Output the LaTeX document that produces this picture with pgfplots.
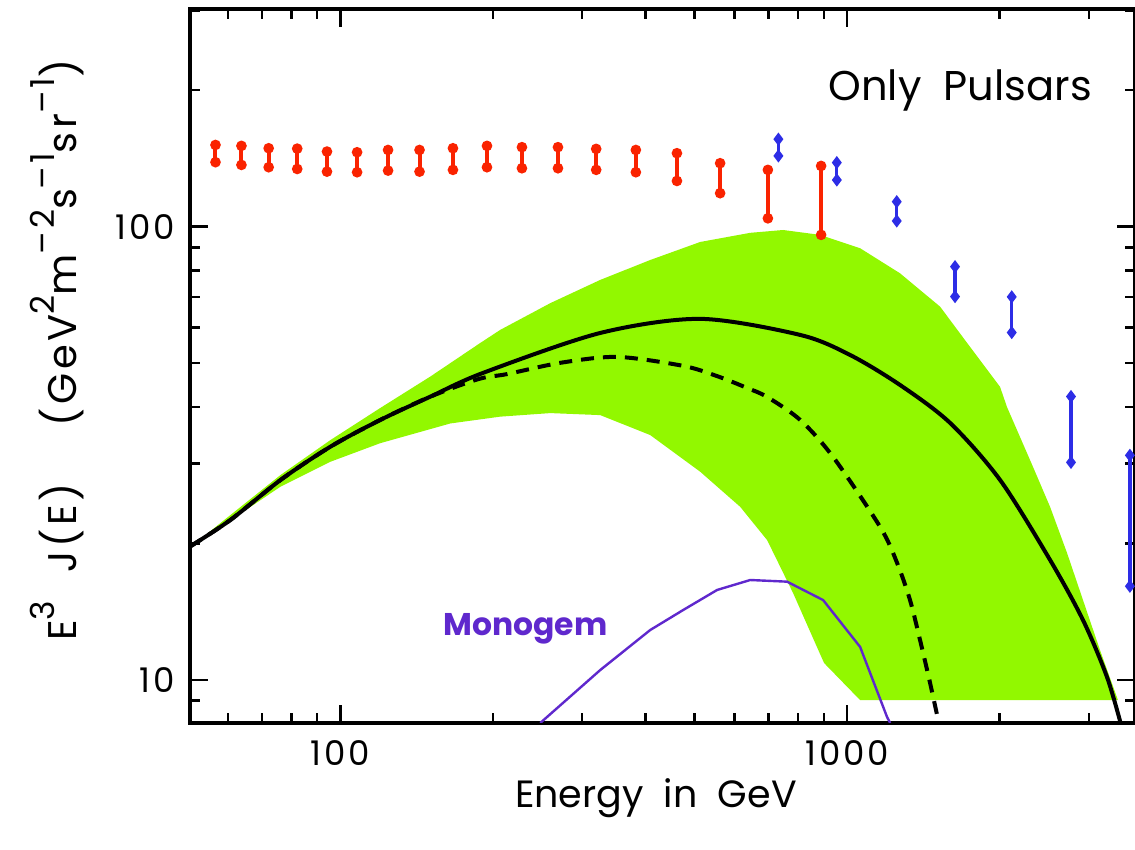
\documentclass[border=0pt]{standalone}
\usepackage{pgfplots}
\pgfplotsset{compat=1.18}
\usepackage{fontspec}
\setmainfont{Poppins}
\newfontfamily\spacedfont{Poppins}[LetterSpace=9]

\definecolor{bandgreen}{RGB}{146,248,0}
\definecolor{datared}{RGB}{250,35,0}
\definecolor{datablue}{RGB}{45,45,230}
\definecolor{monogem}{RGB}{95,40,205}

% large raised exponents for the unit label
\newcommand{\ex}[1]{\raisebox{0.55em}{\fontsize{16.5}{19}\selectfont #1}}
% widely tracked digits for the tick labels
\newcommand{\tk}{\kern1.5pt}

\begin{document}
\begin{tikzpicture}
\begin{axis}[
  scale only axis,
  width=472.5pt, height=357pt,
  xmode=log, ymode=log,
  xmin=50.5, xmax=3700,
  ymin=8.04, ymax=302,
  xtick={100,1000}, ytick={10,100},
  xticklabels={\mbox{1\tk 0\tk 0},\mbox{1\tk 0\tk 0\tk 0}},
  yticklabels={\mbox{1\tk 0},\mbox{1\tk 0\tk 0}},
  minor xtick={60,70,80,90,200,300,400,500,600,700,800,900,2000,3000},
  minor ytick={9,20,30,40,50,60,70,80,90,200,300},
  tick align=inside,
  major tick length=9pt, minor tick length=5pt,
  every tick/.style={black, line width=1.3pt},
  axis line style={line width=1.8pt},
  tick label style={font=\fontsize{17}{20}\selectfont},
  xticklabel style={yshift=-5pt},
  yticklabel style={xshift=-4pt},
  label style={font=\fontsize{19}{22}\selectfont},
  xlabel={Energy\ \ in\ \ GeV},
  ylabel={\spacedfont\fontsize{20}{23}\selectfont E\ex{3}\ \ J(E)\ \ \ \ (GeV\ex{2}m\ex{–2}s\ex{–1}sr\ex{–1})},
  xlabel style={at={(rel axis cs:0.493,-0.119)}, anchor=base},
  ylabel style={at={(rel axis cs:-0.1407,0.522)}, anchor=center},
  clip mode=individual,
]

% model uncertainty band
\addplot[fill=bandgreen, draw=none] coordinates {
  (51.8,20.06) (60.7,23.12) (76.2,28.33) (95.6,33.83) (119.9,39.82)
  (150.5,46.7) (188.9,55.4) (206.8,59.2) (259.6,67.8) (325.7,76.3)
  (408.7,84.4) (513,92.5) (644,96.9) (747.7,98.3) (884.3,95.9)
  (1061,89.6) (1272,78.9) (1526,66.6) (1725,55.4) (2004,44.3)
  (2068,40.0) (2328,29.5) (2515,24.1) (2717,19.06) (2921,15.01)
  (3155,11.65) (3424,9.03)
  (1061,9.03) (900.8,10.9) (872.7,11.8) (782.6,15.55) (695.5,20.35)
  (615.2,24.1) (513,28.8) (408.7,34.7) (325.7,38.4) (259.6,38.8)
  (206.8,38.1) (164.8,36.8) (119.9,33.3) (95.6,30.3) (76.2,26.7)
  (60.7,22.5)
} -- cycle;

% Monogem contribution
\addplot[monogem, line width=1.2pt] coordinates {
  (248,8.04) (325.7,10.52) (408.7,12.89) (474.8,14.27) (554,15.8)
  (644,16.62) (761.3,16.48) (896.8,15.01) (1061,11.83) (1199,8.29) (1216,8.04)
};

% total pulsar spectrum (dashed)
\addplot[black, line width=2pt, dash pattern=on 6.5pt off 4.5pt, smooth] coordinates {
  (50.5,19.7) (60.7,22.55) (76.2,27.62) (95.6,32.71) (119.9,37.47)
  (150.5,42.17) (187.2,46.1) (213.5,47.3) (271.6,50.07) (351.9,51.6)
  (474.8,49.3) (554,46.8) (635,44.07) (695.5,42.1)
  (808,37.47) (938.5,31.04) (1162,21.76) (1255,18.13)
  (1331,15.01) (1393,12.25) (1458,9.85) (1526,7.8)
};

% total pulsar spectrum (solid)
\addplot[black, line width=2pt, smooth] coordinates {
  (50.5,19.7) (60.7,22.55) (76.2,27.62) (95.6,32.71) (119.9,37.47)
  (150.5,42.17) (191.5,47.6) (325.7,58.27)
  (513,62.6) (808,57.7) (1014,52.1) (1272,44.74)
  (1597,36.9) (2004,27.62) (2515,18.4) (2921,13.56) (3258,10.15) (3480,7.9)
};

% measured points, red series (one bar per energy bin)
\addplot[datared, line width=2pt, mark=*, mark size=1.6pt,
  mark options={solid, fill=datared}, unbounded coords=jump] table {
x y
56.7 138.7
56.7 151.4
nan nan
63.8 136.8
63.8 150.7
nan nan
72.2 135.2
72.2 148.9
nan nan
82.2 134.0
82.2 148.6
nan nan
94.1 132.2
94.1 146.4
nan nan
107.9 131.8
107.9 145.9
nan nan
124.2 132.9
124.2 147.6
nan nan
143.3 132.2
143.3 147.6
nan nan
166.8 133.4
166.8 148.9
nan nan
194.7 135.2
194.7 150.7
nan nan
228.2 134.5
228.2 149.7
nan nan
268.8 134.5
268.8 149.7
nan nan
319.8 133.4
319.8 148.4
nan nan
383.0 131.8
383.0 147.6
nan nan
461.5 126.1
461.5 145.2
nan nan
561.6 118.5
561.6 138.0
nan nan
697.7 104.3
697.7 133.4
nan nan
888.7 95.9
888.7 136.1
};

% measured points, blue series
\addplot[datablue, line width=1.6pt, mark=diamond*, mark size=2pt,
  mark options={solid, fill=datablue}, unbounded coords=jump] table {
x y
731.9 143.2
731.9 155.9
nan nan
954.4 126.7
954.4 138.4
nan nan
1253 102.9
1253 113.5
nan nan
1633 70.1
1633 81.6
nan nan
2113 58.4
2113 70.0
nan nan
2766 30.2
2766 42.2
nan nan
3615 16.1
3615 31.3
};

\node[anchor=base, font=\fontsize{20.8}{24}\selectfont] at (rel axis cs:0.815,0.872) {Only\ \ Pulsars};
\node[anchor=base, text=monogem, font=\fontsize{15.7}{18}\selectfont\bfseries] at (rel axis cs:0.355,0.123) {Monogem};
\end{axis}
\pgfresetboundingbox
\path[use as bounding box] ([shift={(-95pt,-63.5pt)}]current axis.south west) rectangle ([shift={(0pt,4.5pt)}]current axis.north east);
\end{tikzpicture}
\end{document}
